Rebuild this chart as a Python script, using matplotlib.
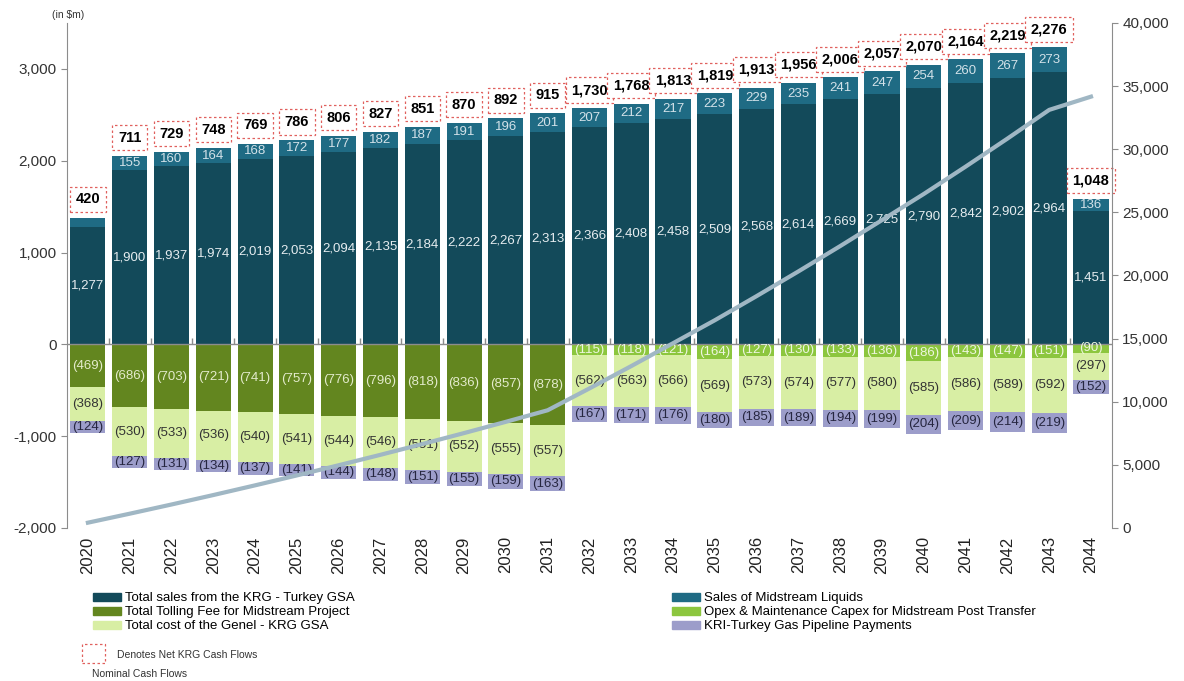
import matplotlib.pyplot as plt
from matplotlib.patches import Patch, Rectangle
import numpy as np

plt.rcParams['font.family'] = ['Liberation Sans', 'DejaVu Sans']

# Nominal cash flows, $m
years = ['2020', '2021', '2022', '2023', '2024', '2025', '2026', '2027', '2028',
         '2029', '2030', '2031', '2032', '2033', '2034', '2035', '2036', '2037',
         '2038', '2039', '2040', '2041', '2042', '2043', '2044']
sales = [1277, 1900, 1937, 1974, 2019, 2053, 2094, 2135, 2184, 2222, 2267, 2313,
         2366, 2408, 2458, 2509, 2568, 2614, 2669, 2725, 2790, 2842, 2902, 2964, 1451]
liquids = [104, 155, 160, 164, 168, 172, 177, 182, 187, 191, 196, 201,
           207, 212, 217, 223, 229, 235, 241, 247, 254, 260, 267, 273, 136]
tolling = [469, 686, 703, 721, 741, 757, 776, 796, 818, 836, 857, 878,
           0, 0, 0, 0, 0, 0, 0, 0, 0, 0, 0, 0, 0]
opex = [0, 0, 0, 0, 0, 0, 0, 0, 0, 0, 0, 0,
        115, 118, 121, 164, 127, 130, 133, 136, 186, 143, 147, 151, 90]
genel = [368, 530, 533, 536, 540, 541, 544, 546, 551, 552, 555, 557,
         562, 563, 566, 569, 573, 574, 577, 580, 585, 586, 589, 592, 297]
pipeline = [124, 127, 131, 134, 137, 141, 144, 148, 151, 155, 159, 163,
            167, 171, 176, 180, 185, 189, 194, 199, 204, 209, 214, 219, 152]
net = [420, 711, 729, 748, 769, 786, 806, 827, 851, 870, 892, 915,
       1730, 1768, 1813, 1819, 1913, 1956, 2006, 2057, 2070, 2164, 2219, 2276, 1048]
cumulative = [420, 1131, 1860, 2608, 3377, 4163, 4969, 5796, 6647, 7517, 8409, 9324,
              11054, 12822, 14635, 16454, 18367, 20323, 22329, 24386, 26456, 28620,
              30839, 33115, 34163]

c_sales = '#134A5A'
c_liq = '#1F6B84'
c_toll = '#63861F'
c_opex = '#8CC63E'
c_genel = '#D8EEA4'
c_pipe = '#9C9DCA'
c_line = '#A0B7C4'
c_box = '#E0605E'
grey = '#8C8C8C'

x = np.arange(len(years))
w = 0.84

fig = plt.figure(figsize=(11.84, 6.81), dpi=100)
ax = fig.add_axes([0.0566, 0.2247, 0.8825, 0.7416])

s = np.array(sales)
l = np.array(liquids)
t = np.array(tolling)
o = np.array(opex)
g = np.array(genel)
p = np.array(pipeline)

ax.bar(x, s, w, color=c_sales, zorder=2)
ax.bar(x, l, w, bottom=s, color=c_liq, zorder=2)
ax.bar(x, -t, w, color=c_toll, zorder=2)
ax.bar(x, -o, w, color=c_opex, zorder=2)
ax.bar(x, -g, w, bottom=-(t + o), color=c_genel, zorder=2)
ax.bar(x, -p, w, bottom=-(t + o + g), color=c_pipe, zorder=2)


def seg_labels(vals, base, sign, color, skip=()):
    for i, v in enumerate(vals):
        if v == 0 or i in skip:
            continue
        txt = f'{v:,}' if sign > 0 else f'({v:,})'
        ax.text(x[i], base[i] + sign * v / 2, txt, ha='center', va='center',
                fontsize=9.5, color=color, zorder=4)


seg_labels(s, np.zeros(len(x)), 1, '#E6EDF0')
seg_labels(l, s, 1, '#D3E2E9', skip=(0,))  # 2020 liquids not labelled
seg_labels(t, np.zeros(len(x)), -1, '#E3EBCC')
seg_labels(o, np.zeros(len(x)), -1, '#EEF6E0')
seg_labels(g, -(t + o), -1, '#333333')
seg_labels(p, -(t + o + g), -1, '#262640')

# net cash flow boxes
for i, v in enumerate(net):
    ax.annotate(f'{v:,}', xy=(x[i], s[i] + l[i]), xytext=(0, 13),
                textcoords='offset points', ha='center', va='center',
                fontsize=10.5, fontweight='bold', color='black', zorder=5,
                bbox=dict(boxstyle='square,pad=0.38', fc='white', ec=c_box,
                          ls=(0, (2, 2)), lw=0.9))

# zero line with small ticks between bars
ax.axhline(0, color=grey, lw=1, zorder=3)
ax.plot(x[:-1] + 0.5, np.zeros(len(x) - 1), ls='none', marker=2, ms=4,
        mew=1, color=grey, zorder=3)

ax.set_xlim(-0.5, len(x) - 0.5)
ax.set_ylim(-2000, 3500)
ax.set_yticks([-2000, -1000, 0, 1000, 2000, 3000])
ax.set_yticklabels([f'{v:,}' for v in [-2000, -1000, 0, 1000, 2000, 3000]])
ax.set_xticks(x)
ax.set_xticklabels(years, rotation=90, fontsize=12)
ax.tick_params(axis='x', length=0, pad=6, colors='#222222')
ax.tick_params(axis='y', length=4, color=grey, labelsize=11, labelcolor='#333333')
for sp in ['top', 'right', 'bottom']:
    ax.spines[sp].set_visible(False)
ax.spines['left'].set_color(grey)

ax2 = ax.twinx()
ax2.plot(x, cumulative, color=c_line, lw=3, zorder=6)
ax2.set_ylim(0, 40000)
ax2.set_yticks(range(0, 40001, 5000))
ax2.set_yticklabels([f'{v:,}' for v in range(0, 40001, 5000)])
ax2.tick_params(axis='y', length=4, color=grey, labelsize=11, labelcolor='#333333')
for sp in ['top', 'left', 'bottom']:
    ax2.spines[sp].set_visible(False)
ax2.spines['right'].set_color(grey)

fig.text(0.044, 0.978, '(in $m)', fontsize=7.5, color='#333333', va='center')

# legend in two columns
left_h = [Patch(color=c_sales, label='Total sales from the KRG - Turkey GSA'),
          Patch(color=c_toll, label='Total Tolling Fee for Midstream Project'),
          Patch(color=c_genel, label='Total cost of the Genel - KRG GSA')]
right_h = [Patch(color=c_liq, label='Sales of Midstream Liquids'),
           Patch(color=c_opex, label='Opex & Maintenance Capex for Midstream Post Transfer'),
           Patch(color=c_pipe, label='KRI-Turkey Gas Pipeline Payments')]
leg_kw = dict(frameon=False, fontsize=9.5, borderpad=0, borderaxespad=0,
              labelspacing=0.15, handlelength=2.15, handleheight=0.55,
              handletextpad=0.25, loc='upper left')
fig.legend(handles=left_h, bbox_to_anchor=(0.0785, 0.130), **leg_kw)
fig.legend(handles=right_h, bbox_to_anchor=(0.5676, 0.130), **leg_kw)

fig.patches.append(Rectangle((0.0693, 0.0265), 0.0194, 0.028, transform=fig.transFigure,
                             fill=False, ec=c_box, ls=(0, (2, 2)), lw=0.9))
fig.text(0.099, 0.038, 'Denotes Net KRG Cash Flows', fontsize=7.5, color='#333333', va='center')
fig.text(0.078, 0.010, 'Nominal Cash Flows', fontsize=7.5, color='#333333', va='center')

fig.savefig('out.png', dpi=100)
